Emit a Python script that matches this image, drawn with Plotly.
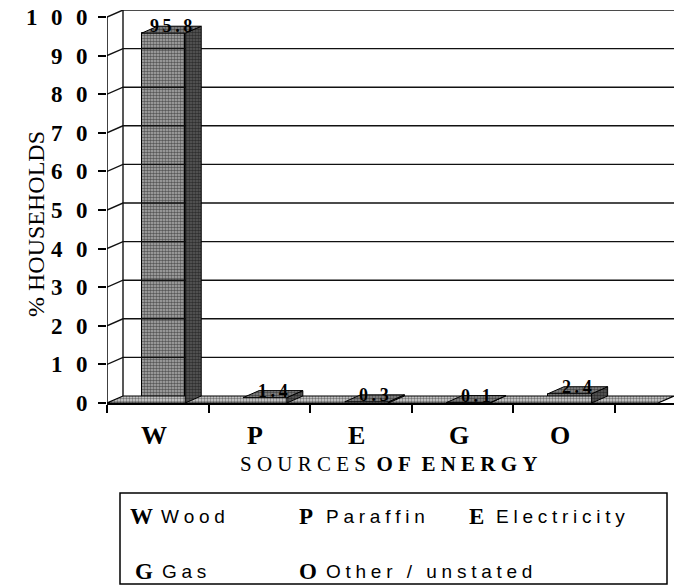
import plotly.graph_objects as go

# data
CATEGORIES = ["W", "P", "E", "G", "O"]
SHARE = [95.8, 1.4, 0.3, 0.1, 2.4]
LABELS = ["95.8", "1.4", "0.3", "0.1", "2.4"]
Y_TICKS = [0, 10, 20, 30, 40, 50, 60, 70, 80, 90, 100]
LEGEND_ROWS = [
    [("W", "Wood"), ("P", "Paraffin"), ("E", "Electricity")],
    [("G", "Gas"), ("O", "Other / unstated")],
]

SERIF = "Liberation Serif, Times New Roman, serif"
SANS = "Liberation Sans, Arial, sans-serif"

# page geometry (px) of the plotting area
W_PX, H_PX = 674, 585
L, R, T, B = 107, 674, 10, 403
CAT_PX = 101.6
X_MAX = (R - L) / CAT_PX
Y_MAX = 100 * (B - T) / (B - 17)
DX = 16 / CAT_PX                      # fake-3D depth, x units
DY = 7 / ((B - 17) / 100)             # fake-3D depth, y units
FRONT0, FRONT1 = 0.34, 0.77           # front face of each bar inside its slot


def px_x(px):
    return (px - L) / (R - L)


def px_y(py):
    return (B - py) / (B - T)


def spaced(s, sep="\u2009"):
    # letter-spacing inside words, wider gap between words
    return "\u2002\u2005".join(sep.join(w) for w in s.split(" "))


fig = go.Figure()

# floor slab
fig.add_trace(go.Scatter(
    x=[0, X_MAX - DX, X_MAX, DX, 0], y=[0, 0, DY, DY, 0],
    mode="lines", fill="toself", fillcolor="#d6d6d6",
    fillpattern=dict(shape=".", fgcolor="#111", size=3, solidity=0.5),
    line=dict(color="#000", width=1.2), hoverinfo="skip", showlegend=False,
))

# back-wall grid: diagonal from the front axis, then across the wall
for v in Y_TICKS[1:]:
    fig.add_trace(go.Scatter(
        x=[0, DX, X_MAX], y=[v, v + DY, v + DY], mode="lines",
        line=dict(color="#111", width=1.4), hoverinfo="skip",
        showlegend=False, cliponaxis=False,
    ))
fig.add_trace(go.Scatter(
    x=[DX, DX], y=[DY, 100 + DY], mode="lines",
    line=dict(color="#111", width=1.4), hoverinfo="skip", showlegend=False,
    cliponaxis=False,
))

# front faces of the bars
xs = [i + (FRONT0 + FRONT1) / 2 for i in range(len(CATEGORIES))]
fig.add_trace(go.Bar(
    x=xs, y=SHARE, width=FRONT1 - FRONT0,
    marker=dict(
        color="#b0b0b0",
        line=dict(color="#000", width=1),
        pattern=dict(shape=".", fgcolor="#000", size=3, solidity=0.55),
    ),
    hovertext=CATEGORIES, showlegend=False,
))

# side and top faces
side_x, side_y, top_x, top_y = [], [], [], []
for i, v in enumerate(SHARE):
    a, b = i + FRONT0, i + FRONT1
    side_x += [b, b + DX, b + DX, b, b, None]
    side_y += [0, DY, v + DY, v, 0, None]
    top_x += [a, b, b + DX, a + DX, a, None]
    top_y += [v, v, v + DY, v + DY, v, None]
fig.add_trace(go.Scatter(
    x=side_x, y=side_y, mode="lines", fill="toself", fillcolor="#5e5e5e",
    fillpattern=dict(shape=".", fgcolor="#000", size=3, solidity=0.6),
    line=dict(color="#000", width=1), hoverinfo="skip", showlegend=False,
))
fig.add_trace(go.Scatter(
    x=top_x, y=top_y, mode="lines", fill="toself", fillcolor="#909090",
    fillpattern=dict(shape=".", fgcolor="#000", size=3, solidity=0.6),
    line=dict(color="#000", width=1), hoverinfo="skip", showlegend=False,
    cliponaxis=False,
))

# value labels sitting on the bar tops
for i, (v, lab) in enumerate(zip(SHARE, LABELS)):
    fig.add_annotation(
        x=i + 0.63, y=v + DY, text=spaced(lab), showarrow=False,
        font=dict(family=SERIF, size=18, color="#000", weight="bold"),
        yanchor="middle",
    )

# category letters under the axis
for i, c in enumerate(CATEGORIES):
    fig.add_annotation(
        x=i + 0.46, xref="x", y=px_y(435), yref="paper", text=f"<b>{c}</b>",
        showarrow=False, font=dict(family=SERIF, size=26, color="#000"),
        yanchor="middle",
    )

fig.add_annotation(
    x=px_x(389), y=px_y(464), xref="paper", yref="paper", showarrow=False,
    text=spaced("SOURCES", "\u2005") + "\u2002<b>" + spaced("OF", "\u2005")
    + "\u2002" + spaced("ENERGY", "\u2005") + "</b>",
    font=dict(family=SERIF, size=21, color="#000"), yanchor="middle",
)
fig.add_annotation(
    x=px_x(21), y=px_y(224), xref="paper", yref="paper", showarrow=False,
    text="% HOUSEHOLDS", textangle=-90,
    font=dict(family=SERIF, size=24, color="#000"),
)

# front y axis line
fig.add_shape(type="line", x0=0, x1=0, y0=0, y1=100, xref="x", yref="y",
              line=dict(color="#000", width=1.5))

# code legend box
fig.add_shape(type="rect", xref="paper", yref="paper",
              x0=px_x(120), x1=px_x(667), y0=px_y(493), y1=px_y(584),
              line=dict(color="#000", width=1.5))
col_px = [128, 297, 467]
row_px = [516, 571]
for r, row in enumerate(LEGEND_ROWS):
    for c, (code, name) in enumerate(row):
        x0 = col_px[c] + (5 if (r == 1 and c == 0) else 0)
        fig.add_annotation(
            x=px_x(x0), y=px_y(row_px[r]), xref="paper", yref="paper",
            xanchor="left", yanchor="middle", showarrow=False,
            text=f"<b>{code}</b>",
            font=dict(family=SERIF, size=23, color="#000"),
        )
        fig.add_annotation(
            x=px_x(x0 + (31 if code == "W" else 27)), y=px_y(row_px[r]),
            xref="paper", yref="paper",
            xanchor="left", yanchor="middle", showarrow=False,
            text=spaced(name, "\u2005"),
            font=dict(family=SANS, size=19, color="#000"),
        )

fig.update_layout(
    width=W_PX, height=H_PX,
    margin=dict(l=L, r=W_PX - R, t=T, b=H_PX - B),
    paper_bgcolor="white", plot_bgcolor="white",
    showlegend=False, bargap=0,
)
fig.update_xaxes(
    range=[0, X_MAX], showgrid=False, zeroline=False,
    showline=True, linecolor="#000", linewidth=2,
    tickvals=list(range(len(CATEGORIES) + 1)), showticklabels=False,
    ticks="outside", ticklen=8, tickcolor="#000", tickwidth=1.5,
)
fig.update_yaxes(
    range=[0, Y_MAX], showgrid=False, zeroline=False, showline=False,
    tickvals=Y_TICKS,
    ticktext=["\u2002\u200a".join(str(v)) for v in Y_TICKS],
    ticks="outside", ticklen=8, tickcolor="#000", tickwidth=1.5,
    tickfont=dict(family=SERIF, size=23, color="#000", weight="bold"),
    ticklabelstandoff=6,
)

# the page's default body margin would push the figure off its 674x585 frame
fig.write_html(
    "out.html",
    config={"displayModeBar": False},
    post_script="document.body.style.margin='0';",
)
